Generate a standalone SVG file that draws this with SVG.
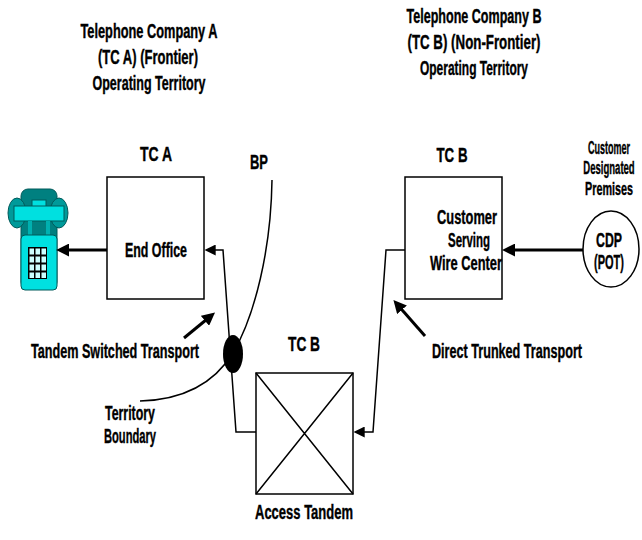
<svg xmlns="http://www.w3.org/2000/svg" width="642" height="540" viewBox="0 0 642 540">
<defs>
<style>
.t{font-family:"Liberation Sans",Arial,sans-serif;font-weight:bold;font-size:20px;fill:#000;stroke:#000;stroke-width:0.4;text-anchor:middle}
.s{font-size:18px}
.box{fill:#fff;stroke:#000;stroke-width:1.5}
.thin{fill:none;stroke:#000;stroke-width:1.5}
.thick{fill:none;stroke:#000;stroke-width:3}
</style>
<marker id="ah" viewBox="0 0 10 10" refX="7" refY="5" markerWidth="13" markerHeight="13" markerUnits="userSpaceOnUse" orient="auto">
<path d="M0,0 L10,5 L0,10 z" fill="#000"/>
</marker>
<marker id="ahs" viewBox="0 0 10 10" refX="7" refY="5" markerWidth="11" markerHeight="11" markerUnits="userSpaceOnUse" orient="auto">
<path d="M0,0 L10,5 L0,10 z" fill="#000"/>
</marker>
</defs>
<rect width="642" height="540" fill="#fff"/>

<g id="title-a">
<text class="t" x="149" y="38" textLength="137" lengthAdjust="spacingAndGlyphs">Telephone Company A</text>
<text class="t" x="148" y="64" textLength="100" lengthAdjust="spacingAndGlyphs">(TC A) (Frontier)</text>
<text class="t" x="149" y="90" textLength="113" lengthAdjust="spacingAndGlyphs">Operating Territory</text>
</g>
<g id="title-b">
<text class="t" x="474" y="23" textLength="135" lengthAdjust="spacingAndGlyphs">Telephone Company B</text>
<text class="t" x="474" y="49" textLength="133" lengthAdjust="spacingAndGlyphs">(TC B) (Non-Frontier)</text>
<text class="t" x="474" y="75" textLength="108" lengthAdjust="spacingAndGlyphs">Operating Territory</text>
</g>

<g id="phone">
<rect x="21" y="189" width="36" height="100" rx="7" fill="#008080" stroke="#005a5a" stroke-width="1"/>
<ellipse cx="17" cy="213" rx="9" ry="15" fill="#009a9a" stroke="#005a5a" stroke-width="1"/>
<ellipse cx="59" cy="213" rx="9" ry="15" fill="#009a9a" stroke="#005a5a" stroke-width="1"/>
<rect x="32" y="200" width="14" height="7" fill="#00e0e0" stroke="#005a5a" stroke-width="1"/>
<rect x="14" y="206" width="50" height="15" fill="#00e0e0" stroke="#005a5a" stroke-width="1"/>
<rect x="28" y="221" width="4" height="14" fill="#00b0b0"/>
<rect x="46" y="221" width="4" height="14" fill="#00b0b0"/>
<rect x="21" y="235" width="36" height="55" rx="4" fill="#00e0e0" stroke="#005a5a" stroke-width="1"/>
<rect x="28" y="247" width="19" height="32" fill="#000"/>
<g fill="#ccffff">
<rect x="29.5" y="248.5" width="4.5" height="6"/><rect x="35.5" y="248.5" width="4.5" height="6"/><rect x="41.5" y="248.5" width="4.5" height="6"/>
<rect x="29.5" y="256.5" width="4.5" height="6"/><rect x="35.5" y="256.5" width="4.5" height="6"/><rect x="41.5" y="256.5" width="4.5" height="6"/>
<rect x="29.5" y="264.5" width="4.5" height="6"/><rect x="35.5" y="264.5" width="4.5" height="6"/><rect x="41.5" y="264.5" width="4.5" height="6"/>
<rect x="29.5" y="272.5" width="4.5" height="5.5"/><rect x="35.5" y="272.5" width="4.5" height="5.5"/><rect x="41.5" y="272.5" width="4.5" height="5.5"/>
</g>
</g>

<g id="end-office">
<text class="t" x="156" y="161" textLength="32" lengthAdjust="spacingAndGlyphs">TC A</text>
<rect class="box" x="107" y="177" width="97" height="122"/>
<text class="t" x="156" y="257" textLength="62" lengthAdjust="spacingAndGlyphs">End Office</text>
</g>

<g id="boundary">
<path class="thin" d="M272,180 C271,250 255,315 233,353 C213,385 180,400 140,401" stroke-width="2"/>
<ellipse cx="233" cy="354" rx="10" ry="19" fill="#000"/>
<text class="t" x="259" y="169" textLength="18" lengthAdjust="spacingAndGlyphs">BP</text>
<text class="t" x="130" y="420" textLength="50" lengthAdjust="spacingAndGlyphs">Territory</text>
<text class="t" x="130" y="443" textLength="52" lengthAdjust="spacingAndGlyphs">Boundary</text>
</g>

<g id="access-tandem">
<text class="t" x="304" y="351" textLength="32" lengthAdjust="spacingAndGlyphs">TC B</text>
<rect class="box" x="256" y="373" width="97" height="121"/>
<path class="thin" d="M256,373 L353,494 M353,373 L256,494"/>
<text class="t" x="304" y="519" textLength="98" lengthAdjust="spacingAndGlyphs">Access Tandem</text>
</g>

<g id="wire-center">
<text class="t" x="452" y="162" textLength="31" lengthAdjust="spacingAndGlyphs">TC B</text>
<rect class="box" x="405" y="177" width="97" height="122"/>
<text class="t" x="467" y="224" textLength="60" lengthAdjust="spacingAndGlyphs">Customer</text>
<text class="t" x="469" y="247" textLength="42" lengthAdjust="spacingAndGlyphs">Serving</text>
<text class="t" x="466" y="270" textLength="72" lengthAdjust="spacingAndGlyphs">Wire Center</text>
</g>

<g id="cdp">
<text class="t s" transform="translate(609,154) scale(0.5,1)">Customer</text>
<text class="t s" transform="translate(609,174) scale(0.53,1)">Designated</text>
<text class="t s" transform="translate(609,195) scale(0.6,1)">Premises</text>
<ellipse cx="611" cy="249" rx="28" ry="38" fill="#fff" stroke="#000" stroke-width="1.5"/>
<text class="t" x="609" y="247" textLength="26" lengthAdjust="spacingAndGlyphs">CDP</text>
<text class="t" x="609" y="269" textLength="30" lengthAdjust="spacingAndGlyphs">(POT)</text>
</g>

<g id="labels">
<text class="t" x="115" y="358" textLength="168" lengthAdjust="spacingAndGlyphs">Tandem Switched Transport</text>
<text class="t" x="507" y="358" textLength="150" lengthAdjust="spacingAndGlyphs">Direct Trunked Transport</text>
</g>

<g id="connectors">
<line class="thick" x1="107" y1="250" x2="60" y2="250" marker-end="url(#ah)"/>
<line class="thick" x1="583" y1="250" x2="506" y2="250" marker-end="url(#ah)"/>
<polyline class="thin" points="256,432 236,432 223,250 208,250" marker-end="url(#ahs)"/>
<polyline class="thin" points="405,250 386,250 373,432 357,432" marker-end="url(#ahs)"/>
<line class="thick" x1="184" y1="338" x2="212" y2="315" marker-end="url(#ah)"/>
<line class="thick" x1="425" y1="336" x2="396" y2="303" marker-end="url(#ah)"/>
</g>
</svg>
